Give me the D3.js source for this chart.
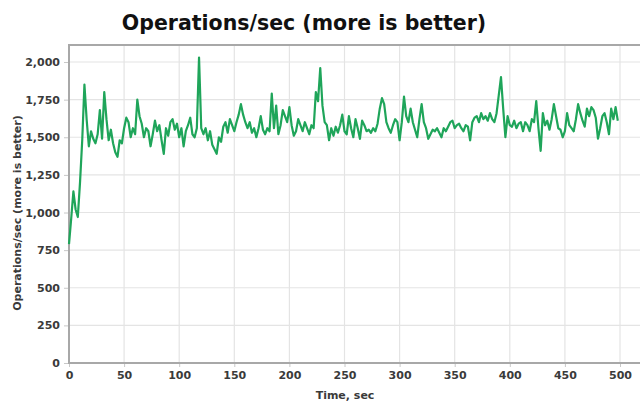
<!DOCTYPE html>
<html>
<head>
<meta charset="utf-8">
<script src="https://cdn.jsdelivr.net/npm/d3@7"></script>
<style>
  html, body { margin: 0; padding: 0; background: #fff; }
  svg { display: block; }
</style>
</head>
<body>
<svg id="chart" width="640" height="403"></svg>
<script>
const titleText = "Operations/sec (more is better)";
const xAxisTitle = "Time, sec";
const yAxisTitle = "Operations/sec (more is better)";
const xTickValues = [0, 50, 100, 150, 200, 250, 300, 350, 400, 450, 500];
const yTickValues = [0, 250, 500, 750, 1000, 1250, 1500, 1750, 2000];

// time (sec), sampled every 2 s
const timeSec = d3.range(0, 500, 2);
// operations per second
const opsPerSec = [
  790, 960, 1140, 1020, 970, 1200, 1480, 1850, 1620, 1440,
  1540, 1490, 1460, 1520, 1680, 1490, 1800, 1620, 1480, 1550,
  1460, 1400, 1370, 1480, 1460, 1560, 1630, 1600, 1500, 1560,
  1520, 1750, 1640, 1590, 1500, 1560, 1540, 1440, 1520, 1610,
  1540, 1580, 1480, 1390, 1560, 1510, 1600, 1620, 1550, 1590,
  1500, 1560, 1440, 1540, 1580, 1630, 1520, 1500, 1560, 2030,
  1560, 1520, 1560, 1480, 1540, 1450, 1420, 1390, 1500, 1470,
  1570, 1600, 1530, 1620, 1580, 1540, 1600, 1650, 1720, 1650,
  1600, 1560, 1600, 1530, 1560, 1500, 1560, 1640, 1550, 1520,
  1560, 1540, 1790, 1560, 1710, 1520, 1580, 1680, 1640, 1600,
  1700, 1580, 1510, 1540, 1620, 1580, 1540, 1600, 1560, 1520,
  1580, 1560, 1800, 1740, 1960, 1710, 1600, 1580, 1480, 1560,
  1510, 1570, 1530, 1580, 1650, 1540, 1520, 1640, 1560, 1500,
  1620, 1560, 1490, 1610, 1580, 1540, 1550, 1530, 1560, 1540,
  1590, 1690, 1760, 1720, 1600, 1560, 1530, 1580, 1620, 1600,
  1480, 1600, 1770, 1640, 1600, 1690, 1600, 1550, 1500, 1620,
  1720, 1600, 1560, 1490, 1520, 1550, 1540, 1560, 1530, 1500,
  1560, 1540, 1570, 1600, 1610, 1560, 1580, 1590, 1560, 1540,
  1580, 1570, 1480, 1600, 1630, 1640, 1600, 1660, 1620, 1640,
  1610, 1660, 1620, 1600, 1660, 1780, 1900, 1690, 1500, 1640,
  1580, 1570, 1610, 1560, 1590, 1600, 1540, 1600, 1580, 1540,
  1620, 1600, 1740, 1560, 1410, 1660, 1580, 1610, 1550, 1620,
  1720, 1640, 1560, 1550, 1500, 1540, 1660, 1580, 1560, 1540,
  1620, 1720, 1660, 1610, 1570, 1690, 1640, 1700, 1680, 1630,
  1490, 1560, 1640, 1660, 1600, 1520, 1690, 1620, 1700, 1610
];

const data = timeSec.map((t, i) => ({ t, v: opsPerSec[i] }));

const svg = d3.select("#chart");
const plotLeft = 69, plotTop = 45, plotBottom = 363, plotRight = 650;

const x = d3.scaleLinear().domain([0, 500]).range([69, 620]);
const y = d3.scaleLinear().domain([0, 2113]).range([plotBottom, plotTop]);

const font = "'DejaVu Sans', Verdana, sans-serif";

// gridlines
const grid = svg.append("g");
grid.selectAll("line.v").data(xTickValues.concat([550])).enter().append("line")
  .attr("x1", d => x(d)).attr("x2", d => x(d))
  .attr("y1", plotTop).attr("y2", plotBottom)
  .attr("stroke", "#e4e4e4").attr("stroke-width", 1.2);
grid.selectAll("line.h").data(yTickValues).enter().append("line")
  .attr("x1", plotLeft).attr("x2", plotRight)
  .attr("y1", d => y(d)).attr("y2", d => y(d))
  .attr("stroke", "#e4e4e4").attr("stroke-width", 1.2);

// frame
svg.append("rect")
  .attr("x", plotLeft).attr("y", plotTop)
  .attr("width", plotRight - plotLeft).attr("height", plotBottom - plotTop)
  .attr("fill", "none").attr("stroke", "#a8a8a8").attr("stroke-width", 2);

// axes
const yAxis = d3.axisLeft(y).tickValues(yTickValues).tickSize(4).tickPadding(4)
  .tickFormat(d3.format(","));
const gy = svg.append("g").attr("transform", `translate(${plotLeft - 1},0)`).call(yAxis);
gy.select(".domain").remove();
gy.selectAll(".tick line").attr("stroke", "#c8c8c8");
gy.selectAll("text").attr("font-family", font).attr("font-size", 11)
  .attr("font-weight", "bold").attr("fill", "#3a3a3a");

const xAxis = d3.axisBottom(x).tickValues(xTickValues).tickSize(3).tickPadding(4);
const gx = svg.append("g").attr("transform", `translate(0,${plotBottom + 1})`).call(xAxis);
gx.select(".domain").remove();
gx.selectAll(".tick line").attr("stroke", "#c8c8c8");
gx.selectAll("text").attr("font-family", font).attr("font-size", 11)
  .attr("font-weight", "bold").attr("fill", "#3a3a3a");

// line
const line = d3.line().x(d => x(d.t)).y(d => y(d.v));
svg.append("path").datum(data)
  .attr("d", line)
  .attr("fill", "none")
  .attr("stroke", "#1fa55a")
  .attr("stroke-width", 2.2)
  .attr("stroke-linejoin", "round");

// titles
svg.append("text")
  .attr("x", 304).attr("y", 30)
  .attr("text-anchor", "middle")
  .attr("font-family", font).attr("font-size", 20.5).attr("font-weight", "bold")
  .attr("fill", "#111")
  .text(titleText);

svg.append("text")
  .attr("x", 345).attr("y", 399)
  .attr("text-anchor", "middle")
  .attr("font-family", font).attr("font-size", 11).attr("font-weight", "bold")
  .attr("fill", "#3a3a3a")
  .text(xAxisTitle);

svg.append("text")
  .attr("transform", "translate(21,213) rotate(-90)")
  .attr("text-anchor", "middle")
  .attr("font-family", font).attr("font-size", 11).attr("font-weight", "bold")
  .attr("fill", "#3a3a3a")
  .text(yAxisTitle);
</script>
</body>
</html>
